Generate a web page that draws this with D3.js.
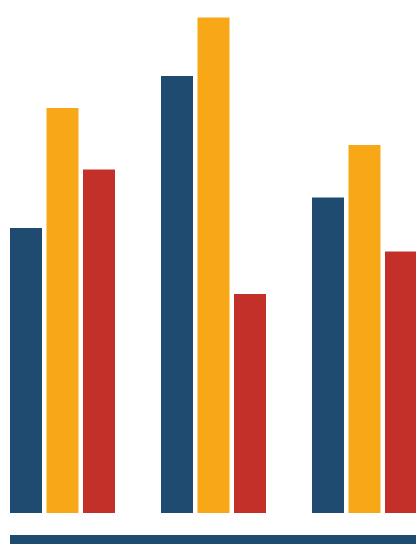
<!DOCTYPE html>
<html>
<head>
<meta charset="utf-8">
<script src="https://cdn.jsdelivr.net/npm/d3@7"></script>
<style>
html,body{margin:0;padding:0;background:#fff;overflow:hidden;}
svg{display:block;}
</style>
</head>
<body>
<script>
const categories = ["A", "B", "C"];
const seriesNames = ["Blue", "Yellow", "Red"];
const blueValues = [57.0, 87.4, 63.1];
const yellowValues = [81.0, 99.1, 73.6];
const redValues = [68.7, 43.8, 52.3];
const colors = ["#1f4b70", "#f8a817", "#c3302a"];

const W = 416, H = 546;
const svg = d3.select("body").append("svg").attr("width", W).attr("height", H);

const x0 = d3.scaleBand().domain(categories).range([10, 463]).paddingInner(0).paddingOuter(0);
const x1 = d3.scaleBand().domain(seriesNames).range([0, 105]).paddingInner(0.1233).paddingOuter(0);
const y = d3.scaleLinear().domain([0, 100]).range([513, 13]);
const color = d3.scaleOrdinal().domain(seriesNames).range(colors);

const allSeries = [blueValues, yellowValues, redValues];
const data = categories.map((c, i) => ({
  cat: c,
  vals: seriesNames.map((s, j) => ({ s, v: allSeries[j][i] }))
}));

const g = svg.selectAll("g.grp").data(data).join("g")
  .attr("class", "grp")
  .attr("transform", d => `translate(${x0(d.cat)},0)`);

g.selectAll("rect").data(d => d.vals).join("rect")
  .attr("x", d => x1(d.s))
  .attr("y", d => y(d.v))
  .attr("width", x1.bandwidth())
  .attr("height", d => y(0) - y(d.v))
  .attr("fill", d => color(d.s));

svg.append("line")
  .attr("x1", x0.range()[0]).attr("x2", W)
  .attr("y1", 539.5).attr("y2", 539.5)
  .attr("stroke", "#1f4b70").attr("stroke-width", 9);
</script>
</body>
</html>
